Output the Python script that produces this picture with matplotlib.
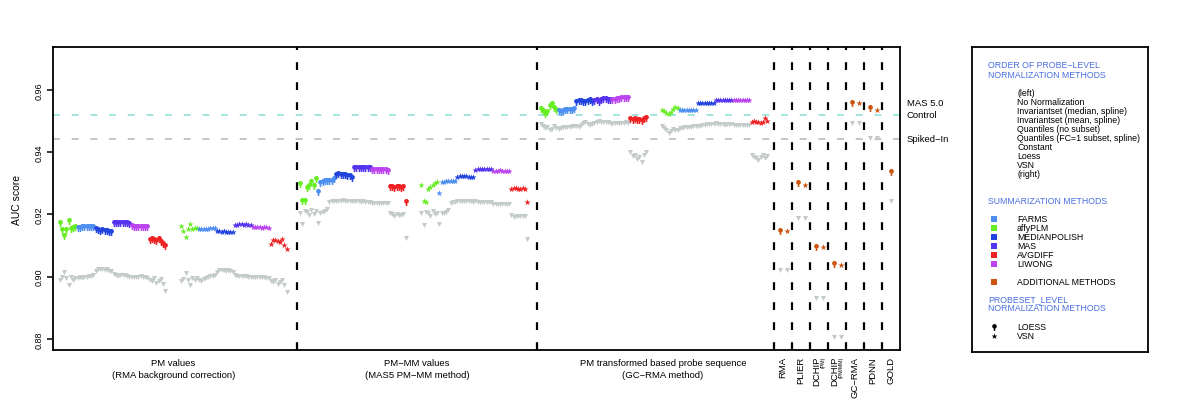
import numpy as np
import matplotlib.pyplot as plt
from matplotlib.path import Path

plt.rcParams['font.family'] = ['Liberation Sans', 'DejaVu Sans']

# summarization methods (legend order) and colours
summ_names = ['FARMS', 'affyPLM', 'MEDIANPOLISH', 'MAS', 'AVGDIFF', 'LIWONG']
summ_colors = ['#4d8ff0', '#66ee22', '#2244dd', '#5533ee', '#ee2222', '#bb44ee']
# order of the coloured segments inside each group
plot_order = ['affyPLM', 'FARMS', 'MEDIANPOLISH', 'MAS', 'LIWONG', 'AVGDIFF']
add_color = '#cc5511'
gray_color = '#c3cbcb'

norm_methods = ['(left)', 'No Normalization', 'Invariantset (median, spline)',
                'Invariantset (mean, spline)', 'Quantiles (no subset)',
                'Quantiles (FC=1 subset, spline)', 'Constant', 'Loess', 'VSN', '(right)']

# ---- PM values (RMA background correction) ----
pm_loess = [
    0.9172, 0.9150, 0.9132, 0.9150, 0.9180, 0.9152, 0.9155, 0.9160,
    0.9156, 0.9157, 0.9158, 0.9158, 0.9159, 0.9159, 0.9160, 0.9160,
    0.9152, 0.9150, 0.9147, 0.9149, 0.9146, 0.9148, 0.9145, 0.9143,
    0.9171, 0.9173, 0.9173, 0.9174, 0.9173, 0.9174, 0.9172, 0.9170,
    0.9163, 0.9161, 0.9161, 0.9160, 0.9160, 0.9160, 0.9159, 0.9160,
    0.9117, 0.9121, 0.9119, 0.9115, 0.9120, 0.9110, 0.9105, 0.9098,
]
pm_loess_spiked = [
    0.8990, 0.8998, 0.9015, 0.8995, 0.8975, 0.8998, 0.8990, 0.8995,
    0.8995, 0.8998, 0.8997, 0.9000, 0.9000, 0.9002, 0.9003, 0.9005,
    0.9020, 0.9025, 0.9024, 0.9025, 0.9023, 0.9024, 0.9020, 0.9018,
    0.9008, 0.9005, 0.9003, 0.9005, 0.9004, 0.9005, 0.9002, 0.9000,
    0.9000, 0.9000, 0.8999, 0.9000, 0.9001, 0.9000, 0.8998, 0.8996,
    0.8990, 0.8985, 0.8995, 0.8980, 0.8985, 0.8992, 0.8978, 0.8955,
]
pm_vsn = [
    0.9164, 0.9148, 0.9126, 0.9152, 0.9170, 0.9152, 0.9156, 0.9155,
    0.9152, 0.9153, 0.9153, 0.9154, 0.9154, 0.9155, 0.9156, 0.9157,
    0.9147, 0.9146, 0.9145, 0.9146, 0.9144, 0.9145, 0.9143, 0.9142,
    0.9166, 0.9167, 0.9168, 0.9168, 0.9167, 0.9168, 0.9167, 0.9166,
    0.9159, 0.9158, 0.9158, 0.9158, 0.9157, 0.9158, 0.9158, 0.9157,
    0.9104, 0.9119, 0.9117, 0.9114, 0.9110, 0.9121, 0.9101, 0.9090,
]
pm_vsn_spiked = [
    0.8985, 0.8992, 0.9012, 0.8990, 0.8972, 0.8995, 0.8988, 0.8995,
    0.8990, 0.8985, 0.8993, 0.8997, 0.8999, 0.9001, 0.9003, 0.9005,
    0.9015, 0.9022, 0.9022, 0.9023, 0.9020, 0.9022, 0.9018, 0.9015,
    0.9005, 0.9003, 0.9002, 0.9003, 0.9002, 0.9003, 0.9000, 0.8999,
    0.8999, 0.8999, 0.8998, 0.8999, 0.9000, 0.8998, 0.8997, 0.8995,
    0.8985, 0.8982, 0.8990, 0.8978, 0.8982, 0.8988, 0.8975, 0.8952,
]

# ---- PM-MM values (MAS5 PM-MM method) ----
pmmm_loess = [
    0.9297, 0.9243, 0.9242, 0.9284, 0.9290, 0.9305, 0.9290, 0.9312,
    0.9271, 0.9302, 0.9305, 0.9306, 0.9307, 0.9306, 0.9308, 0.9312,
    0.9325, 0.9328, 0.9327, 0.9326, 0.9325, 0.9324, 0.9322, 0.9318,
    0.9348, 0.9349, 0.9349, 0.9348, 0.9349, 0.9348, 0.9349, 0.9348,
    0.9342, 0.9343, 0.9342, 0.9343, 0.9342, 0.9343, 0.9341, 0.9340,
    0.9288, 0.9287, 0.9286, 0.9288, 0.9287, 0.9286, 0.9287, 0.9241,
]
pmmm_loess_spiked = [
    0.9205, 0.9168, 0.9212, 0.9208, 0.9198, 0.9215, 0.9202, 0.9210,
    0.9172, 0.9205, 0.9207, 0.9210, 0.9218, 0.9240, 0.9242, 0.9242,
    0.9243, 0.9243, 0.9244, 0.9245, 0.9244, 0.9244, 0.9243, 0.9242,
    0.9243, 0.9242, 0.9242, 0.9241, 0.9242, 0.9241, 0.9240, 0.9240,
    0.9238, 0.9237, 0.9236, 0.9237, 0.9236, 0.9237, 0.9236, 0.9235,
    0.9205, 0.9202, 0.9196, 0.9200, 0.9198, 0.9199, 0.9200, 0.9124,
]
pmmm_vsn = [
    0.9295, 0.9242, 0.9240, 0.9283, 0.9288, 0.9293, 0.9300, 0.9305,
    0.9270, 0.9304, 0.9305, 0.9306, 0.9306, 0.9307, 0.9307, 0.9308,
    0.9320, 0.9322, 0.9323, 0.9322, 0.9322, 0.9321, 0.9321, 0.9320,
    0.9344, 0.9346, 0.9346, 0.9346, 0.9347, 0.9346, 0.9346, 0.9345,
    0.9340, 0.9340, 0.9340, 0.9341, 0.9340, 0.9340, 0.9340, 0.9339,
    0.9283, 0.9286, 0.9284, 0.9283, 0.9282, 0.9284, 0.9281, 0.9240,
]
pmmm_vsn_spiked = [
    0.9203, 0.9166, 0.9208, 0.9205, 0.9195, 0.9212, 0.9200, 0.9206,
    0.9170, 0.9203, 0.9205, 0.9208, 0.9215, 0.9238, 0.9240, 0.9241,
    0.9242, 0.9242, 0.9243, 0.9243, 0.9242, 0.9243, 0.9242, 0.9241,
    0.9242, 0.9241, 0.9241, 0.9240, 0.9241, 0.9240, 0.9239, 0.9239,
    0.9234, 0.9234, 0.9233, 0.9234, 0.9233, 0.9234, 0.9233, 0.9232,
    0.9198, 0.9192, 0.9194, 0.9196, 0.9194, 0.9195, 0.9196, 0.9120,
]

# ---- PM transformed based probe sequence (GC-RMA method) ----
gc_loess = [
    0.9538, 0.9533, 0.9522, 0.9528, 0.9549, 0.9554, 0.9540, 0.9535,
    0.9532, 0.9530, 0.9533, 0.9534, 0.9535, 0.9536, 0.9536, 0.9538,
    0.9560, 0.9565, 0.9563, 0.9560, 0.9562, 0.9564, 0.9566, 0.9561,
    0.9565, 0.9568, 0.9561, 0.9567, 0.9569, 0.9570, 0.9568, 0.9567,
    0.9566, 0.9568, 0.9570, 0.9571, 0.9572, 0.9572, 0.9573, 0.9572,
    0.9505, 0.9503, 0.9506, 0.9502, 0.9504, 0.9500, 0.9506, 0.9508,
]
gc_loess_spiked = [
    0.9490, 0.9485, 0.9476, 0.9480, 0.9470, 0.9475, 0.9482, 0.9478,
    0.9474, 0.9477, 0.9479, 0.9480, 0.9481, 0.9480, 0.9482, 0.9484,
    0.9482, 0.9480, 0.9487, 0.9492, 0.9495, 0.9490, 0.9488, 0.9490,
    0.9494, 0.9497, 0.9499, 0.9498, 0.9496, 0.9497, 0.9495, 0.9493,
    0.9491, 0.9492, 0.9493, 0.9492, 0.9494, 0.9493, 0.9495, 0.9494,
    0.9400, 0.9388, 0.9392, 0.9378, 0.9385, 0.9368, 0.9390, 0.9400,
]
gc_vsn = [
    0.9536, 0.9532, 0.9525, 0.9522, 0.9528, 0.9538, 0.9545, 0.9540,
    0.9534, 0.9534, 0.9535, 0.9535, 0.9535, 0.9536, 0.9535, 0.9535,
    0.9556, 0.9557, 0.9556, 0.9557, 0.9557, 0.9558, 0.9557, 0.9557,
    0.9566, 0.9568, 0.9567, 0.9568, 0.9568, 0.9567, 0.9568, 0.9567,
    0.9566, 0.9567, 0.9566, 0.9567, 0.9566, 0.9567, 0.9567, 0.9566,
    0.9496, 0.9499, 0.9497, 0.9495, 0.9494, 0.9498, 0.9510, 0.9500,
]
gc_vsn_spiked = [
    0.9485, 0.9478, 0.9470, 0.9462, 0.9468, 0.9475, 0.9470, 0.9472,
    0.9476, 0.9478, 0.9479, 0.9480, 0.9481, 0.9481, 0.9482, 0.9483,
    0.9482, 0.9485, 0.9487, 0.9488, 0.9489, 0.9490, 0.9489, 0.9490,
    0.9492, 0.9490, 0.9489, 0.9490, 0.9488, 0.9489, 0.9490, 0.9489,
    0.9487, 0.9487, 0.9486, 0.9487, 0.9488, 0.9486, 0.9487, 0.9488,
    0.9390, 0.9385, 0.9380, 0.9376, 0.9385, 0.9390, 0.9380, 0.9388,
]

# ---- additional methods ----
add_methods = ['RMA', 'PLIER', 'DCHIP', 'DCHIP', 'GC−RMA', 'PDNN', 'GOLD']
add_sub = ['', '', '(PM)', '(PM/MM)', '', '', '']
add_loess = [0.9147, 0.9301, 0.9097, 0.9041, 0.9558, 0.9541, 0.9337]
add_vsn = [0.9146, 0.9295, 0.9097, 0.9037, 0.9557, 0.9536, None]
add_spiked = [0.9022, 0.9187, 0.8932, 0.8808, 0.9494, 0.9445, 0.9242]

# reference lines
ref_labels = ['MAS 5.0', 'Control', 'Spiked−In']
ref_values = [0.9560, 0.9519, 0.9442]

panel_titles = ['PM values', 'PM−MM values', 'PM transformed based probe sequence']
panel_subtitles = ['(RMA background correction)', '(MAS5 PM−MM method)', '(GC−RMA method)']

# pin-shaped marker used for LOESS
theta = np.radians(np.linspace(250, -70, 40))
circ = np.column_stack([0.6 * np.cos(theta), 0.3 + 0.6 * np.sin(theta)])
pin = Path(np.vstack([[-0.2, -0.9], circ, [0.2, -0.9], [-0.2, -0.9]]), closed=True)

color_of = dict(zip(summ_names, summ_colors))
s_pin, s_star, s_gray = 26, 22, 13

fig = plt.figure(figsize=(12, 4.06), dpi=100)
ax = fig.add_axes([53 / 1200, 1 - 351 / 406, 847 / 1200, 303 / 406])

groups = [
    (3, pm_loess, pm_loess_spiked, pin),
    (57, pm_vsn, pm_vsn_spiked, '*'),
    (110, pmmm_loess, pmmm_loess_spiked, pin),
    (164, pmmm_vsn, pmmm_vsn_spiked, '*'),
    (217, gc_loess, gc_loess_spiked, pin),
    (271, gc_vsn, gc_vsn_spiked, '*'),
]

# reference lines
ax.axhline(ref_values[1], color='#a3e6df', lw=1.4, dashes=(3.6, 6.0), zorder=1)
ax.axhline(ref_values[2], color='#c4c4c4', lw=1.4, dashes=(3.6, 6.0), zorder=1)

for start, vals, spiked, mk in groups:
    x = start + np.arange(len(vals))
    ax.scatter(x, spiked, marker='v', s=s_gray, color=gray_color, linewidths=0, zorder=2)
    for i, name in enumerate(plot_order):
        sl = slice(i * 8, (i + 1) * 8)
        ax.scatter(x[sl], vals[sl], marker=mk, s=s_pin if mk is pin else s_star,
                   color=color_of[name], linewidths=0, zorder=3)

# additional methods, one narrow column each
for j in range(len(add_methods)):
    c0 = 321 + 8 * j
    if add_vsn[j] is None:
        ax.scatter([c0 + 4.2], [add_spiked[j]], marker='v', s=s_gray, color=gray_color, linewidths=0, zorder=2)
        ax.scatter([c0 + 4.2], [add_loess[j]], marker=pin, s=s_pin, color=add_color, linewidths=0, zorder=3)
    else:
        ax.scatter([c0 + 2.5, c0 + 5.8], [add_spiked[j]] * 2, marker='v', s=s_gray,
                   color=gray_color, linewidths=0, zorder=2)
        ax.scatter([c0 + 2.5], [add_loess[j]], marker=pin, s=s_pin, color=add_color, linewidths=0, zorder=3)
        ax.scatter([c0 + 5.8], [add_vsn[j]], marker='*', s=s_star, color=add_color, linewidths=0, zorder=3)

# separators
for xs in [108.5, 215.3] + [321 + 8 * j for j in range(7)]:
    ax.axvline(xs, color='black', lw=1.6, dashes=(3.5, 5.5), zorder=4)

ax.set_xlim(0, 377)
ax.set_ylim(0.8765, 0.9737)
ax.set_xticks([])
ax.set_yticks([0.88, 0.90, 0.92, 0.94, 0.96])
ax.set_yticklabels(['0.88', '0.90', '0.92', '0.94', '0.96'])
ax.tick_params(axis='y', length=4.5, width=1.1, labelsize=6.5, labelrotation=90, pad=2.5)
for lbl in ax.get_yticklabels():
    lbl.set_va('center')
for s in ax.spines.values():
    s.set_linewidth(1.3)

fig.text(17 / 1200, 1 - 199.5 / 406, 'AUC score', rotation=90, ha='center', va='center', fontsize=7.5)

# labels for reference lines, right of the plot
for lab, val in zip(ref_labels, ref_values):
    ax.text(1.008, val, lab, transform=ax.get_yaxis_transform(), ha='left', va='center', fontsize=6.8)

# panel labels under the axis
xt = ax.get_xaxis_transform()
for cx, t1, t2 in zip([53.5, 162, 271.5], panel_titles, panel_subtitles):
    ax.text(cx, -0.04, t1, transform=xt, ha='center', va='center', fontsize=6.8)
    ax.text(cx, -0.08, t2, transform=xt, ha='center', va='center', fontsize=6.8)

for j, (name, sub) in enumerate(zip(add_methods, add_sub)):
    cx = 321 + 8 * j + 4
    if sub:
        ax.text(cx - 1.1, -0.02, name, transform=xt, rotation=90, ha='center', va='top', fontsize=6.8)
        ax.text(cx + 1.7, -0.02, sub, transform=xt, rotation=90, ha='center', va='top', fontsize=3.8)
    else:
        ax.text(cx, -0.02, name, transform=xt, rotation=90, ha='center', va='top', fontsize=6.8)

# legend panel
lax = fig.add_axes([972 / 1200, 1 - 353 / 406, 176 / 1200, 305 / 406])
lax.set_xlim(0, 176)
lax.set_ylim(305, 0)
lax.set_xticks([])
lax.set_yticks([])
for s in lax.spines.values():
    s.set_linewidth(1.3)

title_blue = '#4a6ee0'
fs = 6.3
lax.text(16, 18, 'ORDER OF PROBE−LEVEL', color=title_blue, fontsize=fs, va='center')
lax.text(16, 27, 'NORMALIZATION METHODS', color=title_blue, fontsize=fs, va='center')
for i, nm in enumerate(norm_methods):
    lax.text(45, 45.3 + 9.04 * i, nm, fontsize=fs, va='center')

lax.text(16, 154, 'SUMMARIZATION METHODS', color=title_blue, fontsize=fs, va='center')
for i, (nm, col) in enumerate(zip(summ_names, summ_colors)):
    yy = 172 + 9 * i
    lax.scatter([22], [yy], marker='s', s=22, color=col, linewidths=0)
    lax.text(45, yy, nm, fontsize=fs, va='center')
lax.scatter([22], [235], marker='s', s=22, color=add_color, linewidths=0)
lax.text(45, 235, 'ADDITIONAL METHODS', fontsize=fs, va='center')

lax.text(16, 252, 'PROBESET_LEVEL', color=title_blue, fontsize=fs, va='center')
lax.text(16, 261, 'NORMALIZATION METHODS', color=title_blue, fontsize=fs, va='center')
lax.scatter([22], [280], marker=pin, s=24, color='black', linewidths=0)
lax.text(45, 280, 'LOESS', fontsize=fs, va='center')
lax.scatter([22], [289], marker='*', s=20, color='black', linewidths=0)
lax.text(45, 289, 'VSN', fontsize=fs, va='center')

fig.savefig('out.png', dpi=100)
